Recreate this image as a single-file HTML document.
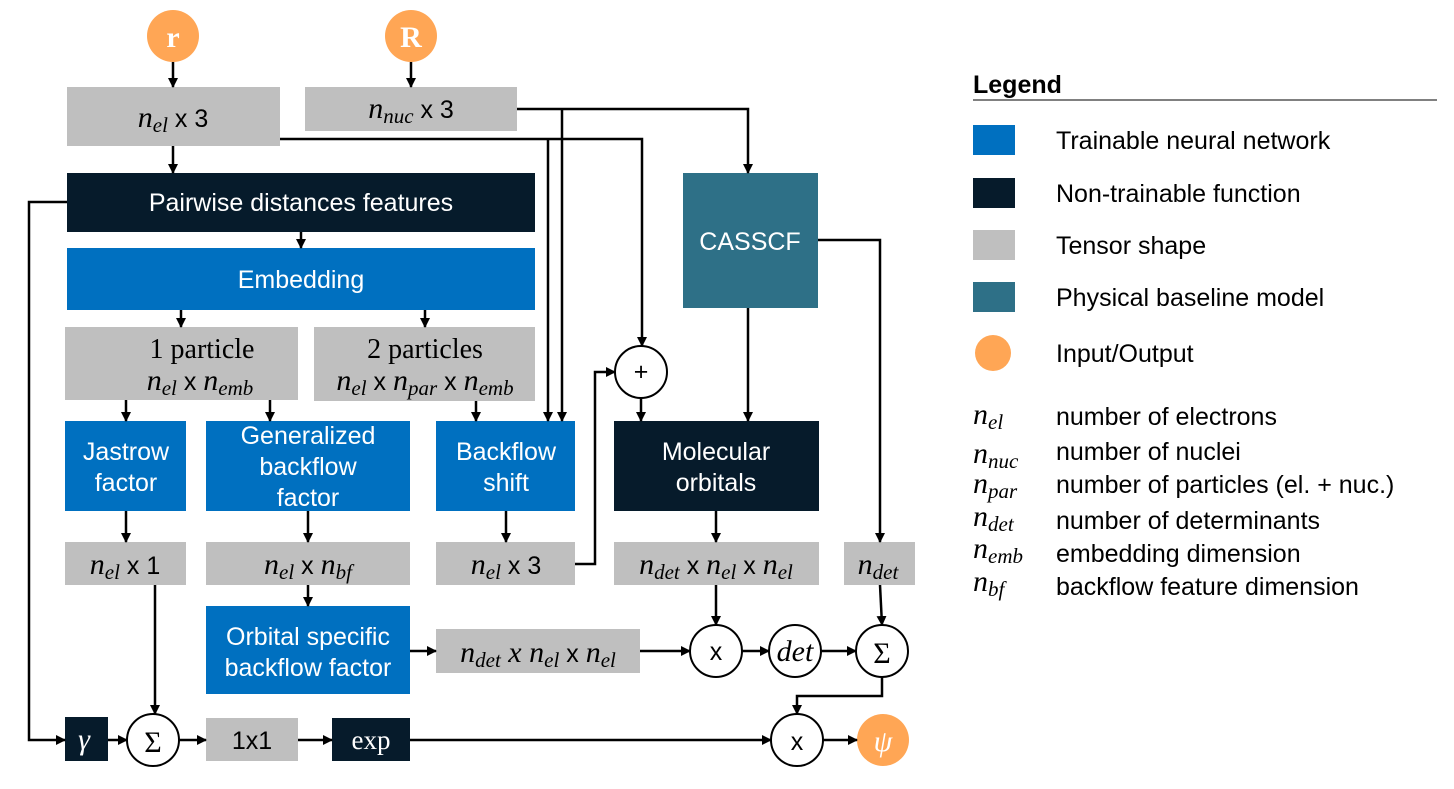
<!DOCTYPE html>
<html><head><meta charset="utf-8"><style>
html,body{margin:0;padding:0;background:#fff}
svg{display:block}
.s{font-family:"Liberation Sans",sans-serif;font-size:25px;fill:#fff;text-anchor:middle}
.k{fill:#000}
.m{font-family:"Liberation Serif",serif;font-style:italic;font-size:30px;fill:#000;text-anchor:middle}
.sub{font-size:21px}
.l{font-family:"Liberation Sans",sans-serif;font-size:25px;fill:#000}
line,path,polyline{stroke:#000;stroke-width:2.5;fill:none}
</style></head><body>
<svg width="1454" height="789" viewBox="0 0 1454 789" xmlns="http://www.w3.org/2000/svg">
<defs><marker id="a" markerWidth="10" markerHeight="10" refX="9" refY="5" orient="auto" markerUnits="userSpaceOnUse"><path d="M0,0 L10,5 L0,10 z" style="fill:#000;stroke:none"/></marker></defs>
<g font-family="Liberation Sans">
<circle cx="173" cy="36" r="26" fill="#FFA655"/>
<text x="173" y="47" font-family="Liberation Serif" font-size="30" font-weight="bold" fill="#fff" text-anchor="middle">r</text>
<circle cx="411" cy="36" r="26" fill="#FFA655"/>
<text x="411" y="47" font-family="Liberation Serif" font-size="30" font-weight="bold" fill="#fff" text-anchor="middle">R</text>

<rect x="67" y="87" width="213" height="59" fill="#BFBFBF"/>
<text x="173" y="127" class="m">n<tspan class="sub" dy="5">el</tspan><tspan dy="-5" class="s k" style="font-style:normal"> x 3</tspan></text>
<rect x="305" y="87" width="212" height="44" fill="#BFBFBF"/>
<text x="411" y="118" class="m">n<tspan class="sub" dy="5">nuc</tspan><tspan dy="-5" class="s k" style="font-style:normal"> x 3</tspan></text>

<rect x="67" y="173" width="468" height="59" fill="#061B2B"/>
<text x="301" y="211" class="s">Pairwise distances features</text>
<rect x="67" y="248" width="468" height="62" fill="#0070C0"/>
<text x="301" y="288" class="s">Embedding</text>

<rect x="65" y="327" width="233" height="73" fill="#BFBFBF"/>
<text x="202" y="358" font-family="Liberation Serif" font-size="28" text-anchor="middle">1 particle</text>
<text x="200" y="390" class="m">n<tspan class="sub" dy="5">el</tspan><tspan dy="-5" class="s k" style="font-style:normal"> x </tspan>n<tspan class="sub" dy="5">emb</tspan></text>
<rect x="314" y="327" width="221" height="74" fill="#BFBFBF"/>
<text x="425" y="358" font-family="Liberation Serif" font-size="28" text-anchor="middle">2 particles</text>
<text x="425" y="390" class="m">n<tspan class="sub" dy="5">el</tspan><tspan dy="-5" class="s k" style="font-style:normal"> x </tspan>n<tspan class="sub" dy="5">par</tspan><tspan dy="-5" class="s k" style="font-style:normal"> x </tspan>n<tspan class="sub" dy="5">emb</tspan></text>

<rect x="65" y="421" width="121" height="90" fill="#0070C0"/>
<text x="126" y="460" class="s">Jastrow</text><text x="126" y="491" class="s">factor</text>
<rect x="206" y="421" width="204" height="90" fill="#0070C0"/>
<text x="308" y="444" class="s">Generalized</text><text x="308" y="475" class="s">backflow</text><text x="308" y="506" class="s">factor</text>
<rect x="436" y="421" width="139" height="90" fill="#0070C0"/>
<text x="506" y="460" class="s">Backflow</text><text x="506" y="491" class="s">shift</text>
<rect x="614" y="421" width="205" height="90" fill="#061B2B"/>
<text x="716" y="460" class="s">Molecular</text><text x="716" y="491" class="s">orbitals</text>
<rect x="683" y="173" width="135" height="135" fill="#2E7087"/>
<text x="750" y="250" class="s">CASSCF</text>

<rect x="65" y="542" width="121" height="43" fill="#BFBFBF"/>
<text x="125" y="574" class="m">n<tspan class="sub" dy="5">el</tspan><tspan dy="-5" class="s k" style="font-style:normal"> x 1</tspan></text>
<rect x="206" y="542" width="204" height="43" fill="#BFBFBF"/>
<text x="308" y="574" class="m">n<tspan class="sub" dy="5">el</tspan><tspan dy="-5" class="s k" style="font-style:normal"> x </tspan>n<tspan class="sub" dy="5">bf</tspan></text>
<rect x="436" y="542" width="139" height="43" fill="#BFBFBF"/>
<text x="506" y="574" class="m">n<tspan class="sub" dy="5">el</tspan><tspan dy="-5" class="s k" style="font-style:normal"> x 3</tspan></text>
<rect x="614" y="542" width="205" height="43" fill="#BFBFBF"/>
<text x="716" y="574" class="m">n<tspan class="sub" dy="5">det</tspan><tspan dy="-5" class="s k" style="font-style:normal"> x </tspan>n<tspan class="sub" dy="5">el</tspan><tspan dy="-5" class="s k" style="font-style:normal"> x </tspan>n<tspan class="sub" dy="5">el</tspan></text>
<rect x="844" y="542" width="71" height="43" fill="#BFBFBF"/>
<text x="878" y="574" class="m">n<tspan class="sub" dy="5">det</tspan></text>

<rect x="206" y="606" width="204" height="88" fill="#0070C0"/>
<text x="308" y="645" class="s">Orbital specific</text><text x="308" y="676" class="s">backflow factor</text>
<rect x="436" y="629" width="204" height="44" fill="#BFBFBF"/>
<text x="538" y="662" class="m">n<tspan class="sub" dy="5">det</tspan><tspan dy="-5"> x </tspan>n<tspan class="sub" dy="5">el</tspan><tspan dy="-5" class="s k" style="font-style:normal"> x </tspan>n<tspan class="sub" dy="5">el</tspan></text>

<rect x="65" y="717" width="43" height="44" fill="#061B2B"/>
<text x="84" y="749" class="m" style="fill:#fff">γ</text>
<rect x="206" y="718" width="92" height="43" fill="#BFBFBF"/>
<text x="252" y="749" class="s k">1x1</text>
<rect x="332" y="718" width="78" height="43" fill="#061B2B"/>
<text x="371" y="749" font-family="Liberation Serif" font-size="27" fill="#fff" text-anchor="middle">exp</text>

<g fill="#fff" stroke="#000" stroke-width="2">
<circle cx="641" cy="372" r="26"/><circle cx="716" cy="651" r="26"/><circle cx="795" cy="651" r="26"/>
<circle cx="882" cy="651" r="26"/><circle cx="797" cy="740" r="26"/><circle cx="153" cy="740" r="26"/>
</g>
<circle cx="883" cy="740" r="26" fill="#FFA655"/>
<text x="641" y="380" class="s k">+</text>
<text x="716" y="660" class="s k">x</text>
<text x="795" y="661" class="m">det</text>
<text x="882" y="663" font-family="Liberation Serif" font-size="30" text-anchor="middle">Σ</text>
<text x="153" y="752" font-family="Liberation Serif" font-size="30" text-anchor="middle">Σ</text>
<text x="797" y="750" class="s k">x</text>
<text x="883" y="751" class="m" style="fill:#fff">ψ</text>

<g marker-end="url(#a)">
<line x1="173" y1="62" x2="173" y2="87"/>
<line x1="411" y1="62" x2="411" y2="87"/>
<line x1="173" y1="146" x2="173" y2="173"/>
<line x1="301" y1="232" x2="301" y2="248"/>
<line x1="181" y1="310" x2="181" y2="327"/>
<line x1="425" y1="310" x2="425" y2="327"/>
<line x1="126" y1="400" x2="126" y2="421"/>
<line x1="270" y1="400" x2="270" y2="421"/>
<line x1="476" y1="401" x2="476" y2="421"/>
<polyline points="517,109 748,109 748,173"/>
<polyline points="280,139 642,139 642,346"/>
<line x1="548" y1="139" x2="548" y2="421"/>
<line x1="562" y1="109" x2="562" y2="421"/>
<line x1="748" y1="308" x2="748" y2="421"/>
<polyline points="818,240 880,240 880,542"/>
<line x1="641" y1="398" x2="641" y2="421"/>
<polyline points="575,564 595,564 595,372 615,372"/>
<line x1="126" y1="511" x2="126" y2="542"/>
<line x1="308" y1="511" x2="308" y2="542"/>
<line x1="506" y1="511" x2="506" y2="542"/>
<line x1="716" y1="511" x2="716" y2="542"/>
<line x1="308" y1="585" x2="308" y2="606"/>
<line x1="716" y1="585" x2="716" y2="625"/>
<line x1="880" y1="585" x2="882" y2="625"/>
<line x1="410" y1="651" x2="436" y2="651"/>
<line x1="640" y1="651" x2="690" y2="651"/>
<line x1="742" y1="651" x2="769" y2="651"/>
<line x1="821" y1="651" x2="856" y2="651"/>
<polyline points="882,677 882,696 797,696 797,714"/>
<line x1="155" y1="585" x2="155" y2="714"/>
<polyline points="67,202 29,202 29,740 65,740"/>
<line x1="108" y1="740" x2="127" y2="740"/>
<line x1="179" y1="740" x2="206" y2="740"/>
<line x1="298" y1="740" x2="332" y2="740"/>
<line x1="410" y1="740" x2="771" y2="740"/>
<line x1="823" y1="740" x2="857" y2="740"/>
</g>

<text x="973" y="93" font-size="25" font-weight="bold">Legend</text>
<line x1="973" y1="100" x2="1437" y2="100" style="stroke-width:1"/>
<rect x="973" y="125" width="42" height="30" fill="#0070C0"/>
<rect x="973" y="178" width="42" height="30" fill="#061B2B"/>
<rect x="973" y="230" width="42" height="30" fill="#BFBFBF"/>
<rect x="973" y="282" width="42" height="30" fill="#2E7087"/>
<circle cx="993" cy="353" r="18" fill="#FFA655"/>
<text x="1056" y="149" class="l">Trainable neural network</text>
<text x="1056" y="202" class="l">Non-trainable function</text>
<text x="1056" y="254" class="l">Tensor shape</text>
<text x="1056" y="306" class="l">Physical baseline model</text>
<text x="1056" y="362" class="l">Input/Output</text>
<g class="m" style="text-anchor:start">
<text x="973" y="424">n<tspan class="sub" dy="5">el</tspan></text>
<text x="973" y="463">n<tspan class="sub" dy="5">nuc</tspan></text>
<text x="973" y="493">n<tspan class="sub" dy="5">par</tspan></text>
<text x="973" y="526">n<tspan class="sub" dy="5">det</tspan></text>
<text x="973" y="558">n<tspan class="sub" dy="5">emb</tspan></text>
<text x="973" y="591">n<tspan class="sub" dy="5">bf</tspan></text>
</g>
<text x="1056" y="425" class="l">number of electrons</text>
<text x="1056" y="460" class="l">number of nuclei</text>
<text x="1056" y="493" class="l">number of particles (el. + nuc.)</text>
<text x="1056" y="529" class="l">number of determinants</text>
<text x="1056" y="562" class="l">embedding dimension</text>
<text x="1056" y="595" class="l">backflow feature dimension</text>
</g>
</svg>
</body></html>
